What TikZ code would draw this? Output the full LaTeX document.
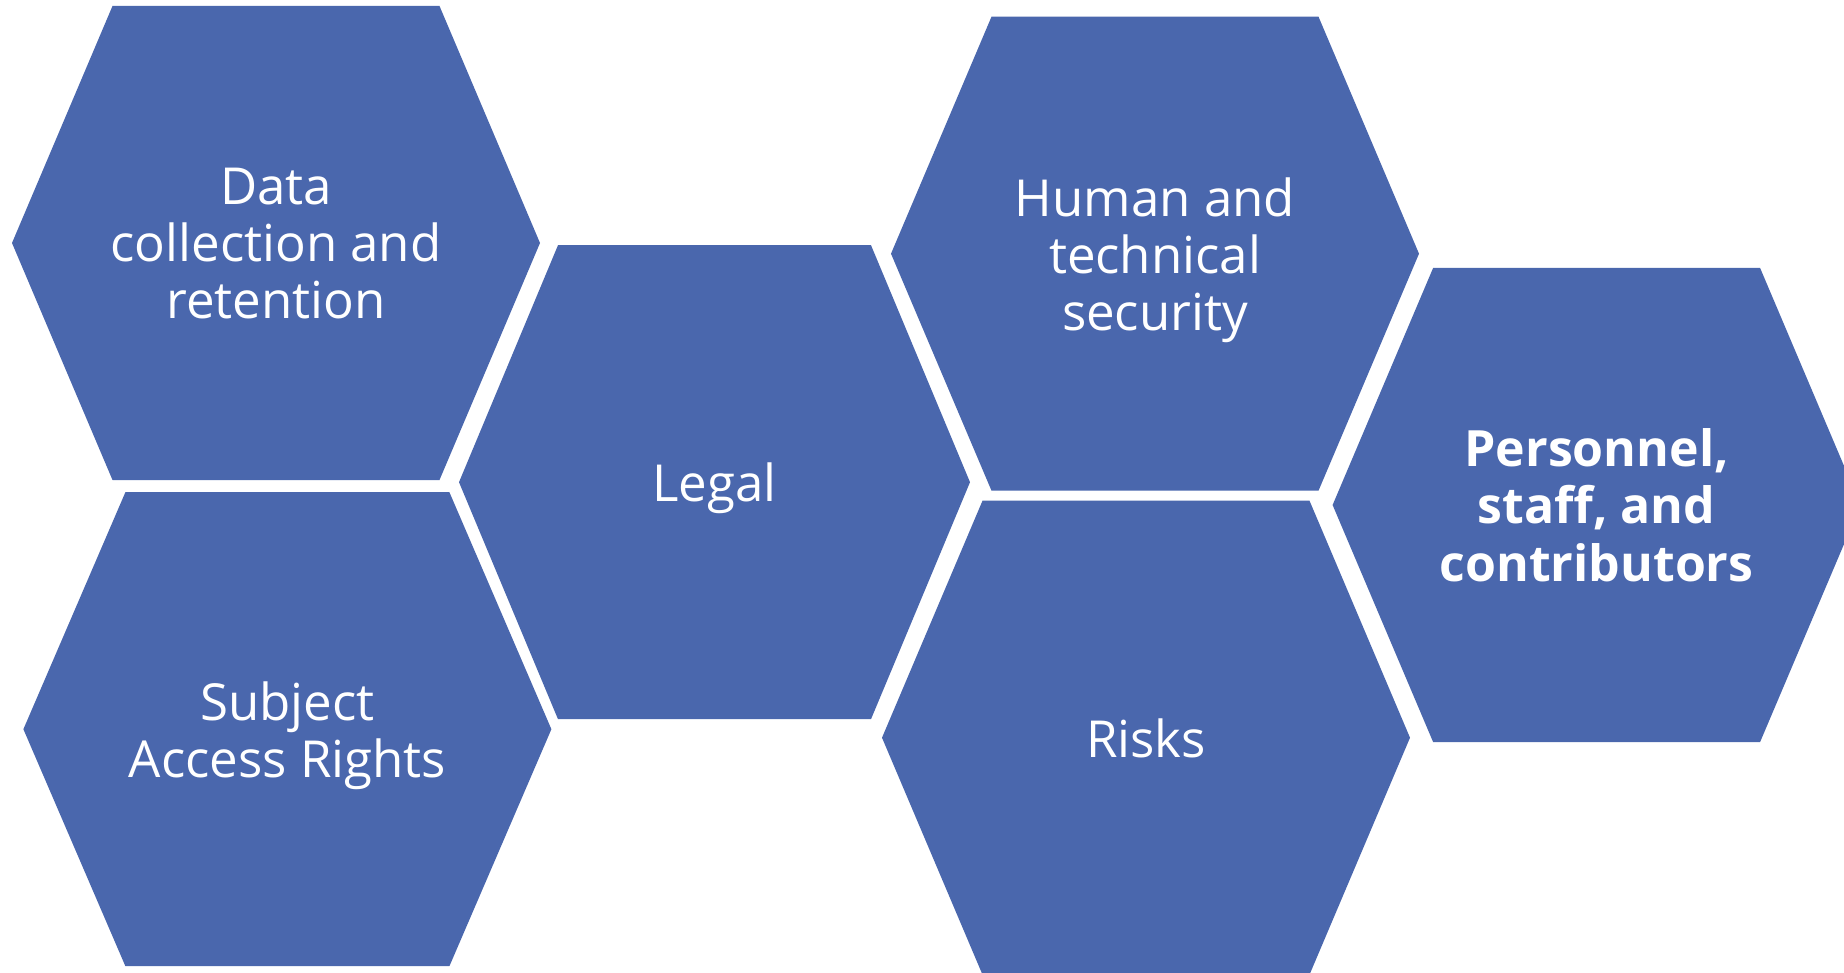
\documentclass[tikz,border=0pt]{standalone}
\usepackage{fontspec}
\setmainfont{Open Sans}

\definecolor{cellblue}{RGB}{74,103,173}

\tikzset{
  cell/.style={fill=cellblue},
  celltext/.style={text=white, align=center, text depth=0pt, font=\fontsize{51}{57}\selectfont},
  boldtext/.style={celltext, font=\fontsize{50}{57.5}\selectfont\bfseries},
}

% one hexagon: [text style] name, centre x, centre y, half width, half top edge, text
\newcommand{\hexcell}[7][celltext]{%
  \fill[cell, shift={(#3,#4)}] (-#5,0) -- (-#6,-237) -- (#6,-237) -- (#5,0)
    -- (#6,237) -- (-#6,237) -- cycle;
  \node[#1] (#2) at (#3,#4) {#7};
}

\begin{document}
\begin{tikzpicture}[x=1pt, y=-1pt]
\useasboundingbox (0,0) rectangle (1844,973);
\clip (0,0) rectangle (1844,973);

\hexcell{data}{276}{243}{264}{163.5}{Data\\collection and\\retention}
\hexcell{subject}{287.4}{729.2}{264}{162}{Subject\\Access Rights}
\hexcell{legal}{714.5}{482.2}{255.5}{156.5}{Legal}
\hexcell{human}{1155}{253.7}{264}{163.5}{Human and\\technical\\security}
\hexcell{risks}{1146}{737.7}{264}{163.5}{Risks}
\hexcell[boldtext]{personnel}{1596.6}{505}{264}{163.5}{Personnel,\\staff, and\\contributors}
\end{tikzpicture}
\end{document}
